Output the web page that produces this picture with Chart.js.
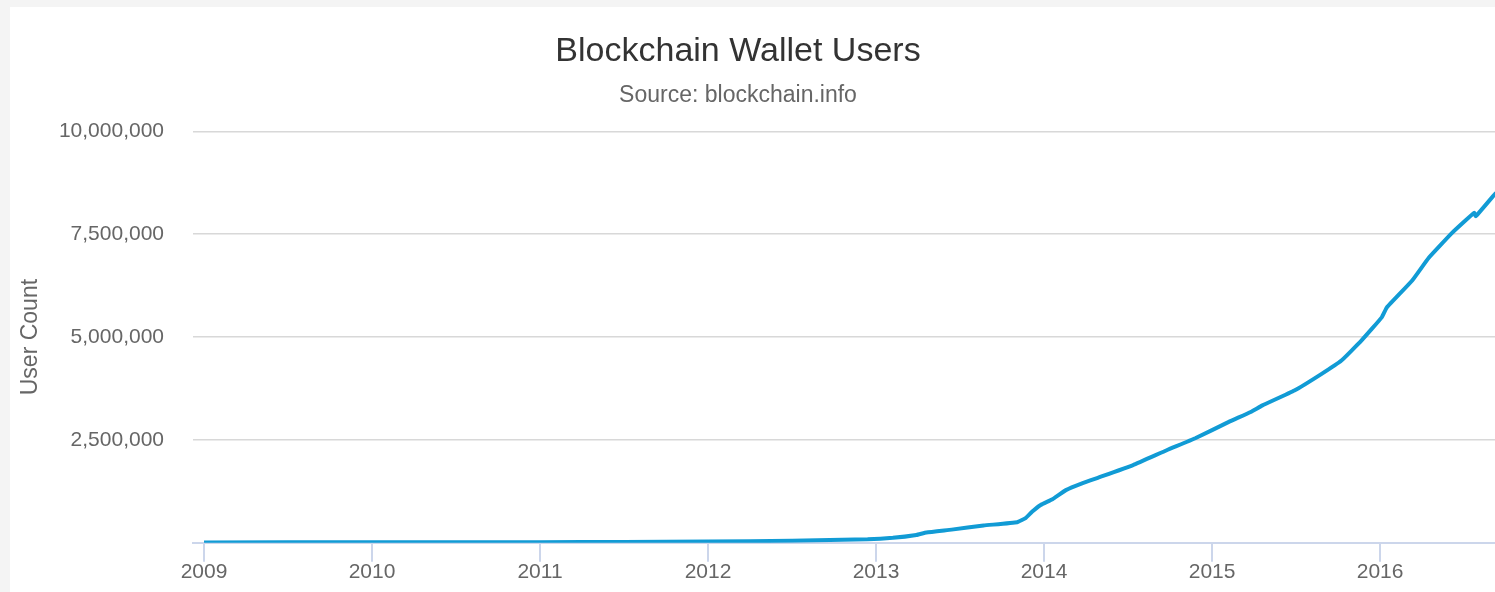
<!DOCTYPE html>
<html>
<head>
<meta charset="utf-8">
<script src="https://cdn.jsdelivr.net/npm/chart.js@4/dist/chart.umd.min.js"></script>
<style>
  html, body { margin: 0; padding: 0; width: 1495px; height: 592px; overflow: hidden; background: #f4f4f4; }
  #card { position: absolute; left: 10px; top: 7px; right: 0; bottom: 0; background: #ffffff; }
  #walletChart { position: absolute; left: -20px; top: 0; }
</style>
</head>
<body>
<div id="card"></div>
<canvas id="walletChart" width="1516" height="592"></canvas>
<script>
// decimal years
const dates = [
  2009.00, 2010.00, 2011.00, 2011.50, 2012.00, 2012.50, 2012.95, 2013.10,
  2013.24, 2013.30, 2013.45, 2013.64, 2013.84, 2013.89, 2013.93, 2013.98,
  2014.05, 2014.13, 2014.23, 2014.32, 2014.53, 2014.73, 2014.90, 2015.10,
  2015.23, 2015.30, 2015.49, 2015.65, 2015.77, 2015.89, 2016.01, 2016.04,
  2016.19, 2016.29, 2016.43, 2016.56, 2016.57, 2016.69
];
const users = [
  10000, 12000, 15000, 20000, 30000, 50000, 85000, 120000,
  190000, 250000, 320000, 420000, 500000, 600000, 760000, 920000,
  1060000, 1280000, 1450000, 1580000, 1890000, 2250000, 2540000, 2940000,
  3180000, 3340000, 3700000, 4100000, 4430000, 4920000, 5480000, 5720000,
  6370000, 6930000, 7540000, 8020000, 7940000, 8510000
];
const yearTicks = [2009, 2010, 2011, 2012, 2013, 2014, 2015, 2016];
const countTicks = [0, 2500000, 5000000, 7500000, 10000000];

Chart.defaults.font.family = "'Liberation Sans', Arial, sans-serif";

const canvasElement = document.querySelector("#walletChart");

let points = dates.map((d, i) => ({ x: d, y: users[i] }));

const walletChart = new Chart(canvasElement, {
    type: "line",
    data: {
        datasets: [{
            label: "Users",
            data: points,
            borderColor: "#119bd5",
            borderWidth: 4,
            pointRadius: 0,
            tension: 0.1,
            fill: false
        }]
    },
    options: {
        responsive: false,
        animation: false,
        layout: { padding: { left: 0, right: 0, top: 0, bottom: 9 } },
        plugins: {
            legend: { display: false },
            tooltip: { enabled: false },
            title: {
                display: true,
                text: "Blockchain Wallet Users",
                color: "#333333",
                font: { size: 34, weight: "normal" },
                padding: { top: 31, bottom: 0 }
            },
            subtitle: {
                display: true,
                text: "Source: blockchain.info",
                color: "#666666",
                font: { size: 23, weight: "normal" },
                padding: { top: 10, bottom: 22 }
            }
        },
        scales: {
            x: {
                type: "linear",
                min: 2009 - 11 / 168,
                max: 2016.69,
                afterBuildTicks: (scale) => {
                    scale.ticks = yearTicks.map(v => ({ value: v }));
                },
                ticks: {
                    color: "#666666",
                    font: { size: 21 },
                    padding: -2,
                    maxRotation: 0,
                    callback: (v) => String(v)
                },
                grid: {
                    display: true,
                    drawOnChartArea: false,
                    drawTicks: true,
                    tickLength: 19,
                    color: "#ccd6eb",
                    lineWidth: 2
                },
                border: { display: true, color: "#ccd6eb", width: 2 }
            },
            y: {
                min: 0,
                max: 10000000,
                afterBuildTicks: (scale) => {
                    scale.ticks = countTicks.map(v => ({ value: v }));
                },
                afterFit: (scale) => {
                    scale.width = 213;
                },
                ticks: {
                    color: "#666666",
                    font: { size: 21 },
                    padding: 29,
                    callback: (v) => v === 0 ? "" : v.toLocaleString("en-US")
                },
                grid: {
                    drawTicks: false,
                    color: (ctx) => ctx.tick && ctx.tick.value === 0 ? "rgba(0,0,0,0)" : "#d8d8d8",
                    lineWidth: 1.5
                },
                border: { display: false },
                title: {
                    display: true,
                    text: "User Count",
                    color: "#666666",
                    font: { size: 23 },
                    padding: { top: 37, bottom: 0 }
                }
            }
        }
    }
});
</script>
</body>
</html>
